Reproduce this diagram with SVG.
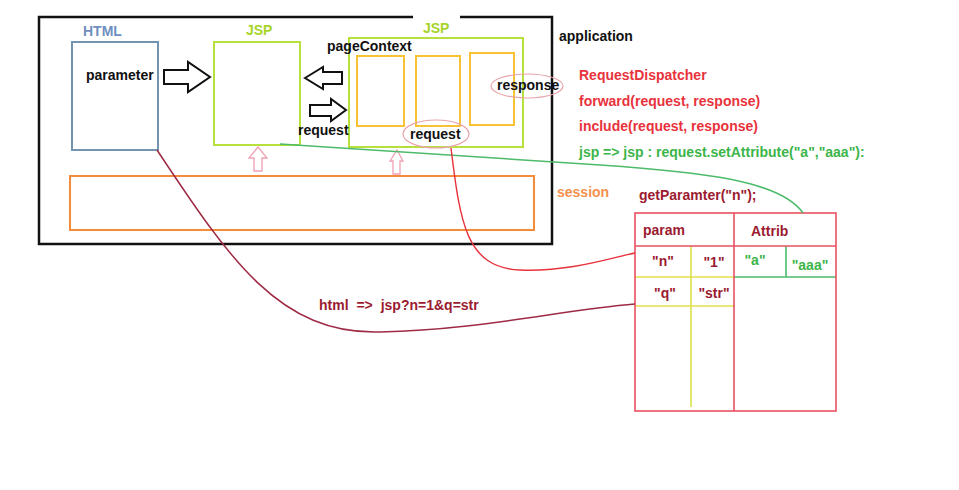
<svg xmlns="http://www.w3.org/2000/svg" width="959" height="490" viewBox="0 0 959 490">
<style>
text{font-family:"Liberation Sans",Arial,sans-serif;font-weight:bold;font-size:14px}
.k{fill:#111}
.red{fill:#e8323c}
.grn{fill:#3cb54a}
.dr{fill:#9b1b30}
.blk{fill:#fff;stroke:#111;stroke-width:2}
.pk{fill:#fff;stroke:#f0a0b4;stroke-width:1.3}
.jsp{fill:none;stroke:#b8e03c;stroke-width:2}
.inner{fill:none;stroke:#f7c234;stroke-width:2}
.ell{fill:none;stroke:#e8a4aa;stroke-width:1.2}
.tb{fill:none;stroke:#e8505f;stroke-width:1.6}
</style>
<rect width="959" height="490" fill="#fff"/>
<g id="application">
<path d="M413,17 H39 V244 H552 V17 H460" fill="none" stroke="#111" stroke-width="2.5"/>
<text class="k" x="559" y="41">application</text>
</g>
<g id="html">
<text x="83" y="36" fill="#6f8fc0">HTML</text>
<rect x="72" y="42" width="86" height="108" fill="none" stroke="#7294b0" stroke-width="2"/>
<text class="k" x="86" y="80">parameter</text>
</g>
<g id="jsp1">
<text x="246" y="35" fill="#a8d42a">JSP</text>
<rect x="214" y="42" width="86" height="103" class="jsp"/>
</g>
<g id="jsp2">
<text x="423" y="33" fill="#a8d42a">JSP</text>
<rect x="349" y="38" width="174" height="109" class="jsp"/>
<text class="k" x="327" y="51">pageContext</text>
<rect x="357" y="56" width="47" height="70" class="inner"/>
<rect x="416" y="56" width="44" height="70" class="inner"/>
<rect x="470" y="53" width="44" height="72" class="inner"/>
<ellipse cx="527" cy="86" rx="36" ry="12" class="ell"/>
<text class="k" x="497" y="90">response</text>
<ellipse cx="436" cy="134" rx="33" ry="14" class="ell"/>
<text class="k" x="410" y="139">request</text>
</g>
<g id="session">
<rect x="70" y="176" width="464" height="54" fill="none" stroke="#f58c3c" stroke-width="2"/>
<text x="557" y="197" fill="#f5904e">session</text>
</g>
<g id="dispatcher">
<text class="red" x="579" y="80">RequestDispatcher</text>
<text class="red" x="579" y="106">forward(request, response)</text>
<text class="red" x="579" y="131">include(request, response)</text>
<text class="grn" x="579" y="157">jsp =&gt; jsp : request.setAttribute("a","aaa"):</text>
</g>
<g id="table">
<text class="dr" x="639" y="200">getParamter("n");</text>
<line x1="691" y1="246" x2="691" y2="407" stroke="#d8e24c" stroke-width="1.6"/>
<line x1="635" y1="277" x2="734" y2="277" stroke="#e2e04a" stroke-width="1.6"/>
<line x1="635" y1="306" x2="735" y2="306" stroke="#e2e04a" stroke-width="1.6"/>
<line x1="734" y1="277" x2="836" y2="277" stroke="#4cbb6a" stroke-width="1.6"/>
<line x1="786" y1="246" x2="786" y2="277" stroke="#4cbb6a" stroke-width="1.6"/>
<rect x="635" y="213" width="201" height="198" class="tb"/>
<line x1="734" y1="213" x2="734" y2="411" class="tb"/>
<line x1="635" y1="246" x2="836" y2="246" class="tb"/>
<text class="dr" x="643" y="235">param</text>
<text class="dr" x="751" y="236">Attrib</text>
<text class="dr" x="663" y="266" text-anchor="middle">"n"</text>
<text class="dr" x="714" y="267" text-anchor="middle">"1"</text>
<text class="grn" x="755" y="265" text-anchor="middle">"a"</text>
<text class="grn" x="810" y="270" text-anchor="middle">"aaa"</text>
<text class="dr" x="665" y="298" text-anchor="middle">"q"</text>
<text class="dr" x="714" y="298" text-anchor="middle">"str"</text>
</g>
<g id="connectors">
<polygon class="blk" points="164,70 188,70 188,62 210,77 188,92 188,84 164,84"/>
<polygon class="blk" points="305,78 323,67 323,72 342,72 342,84 323,84 323,89"/>
<polygon class="blk" points="310,105 331,105 331,99 346,110 331,121 331,116 310,116"/>
<text class="k" x="298" y="135">request</text>
<polygon class="pk" points="258,147 267,158 262,158 262,171 254,171 254,158 249,158"/>
<polygon class="pk" points="397,150 403,161 400,161 400,174 393,174 393,161 390,161"/>
<path d="M280,144 L600,165 C700,172 780,180 803,213" fill="none" stroke="#4cbb6a" stroke-width="1.5"/>
<path d="M451,148 C460,220 465,268 520,270 C570,272 610,258 635,253" fill="none" stroke="#e8323c" stroke-width="1.4"/>
<path d="M157,150 C230,260 280,335 380,332 C480,330 560,310 635,304" fill="none" stroke="#9e2a44" stroke-width="1.5"/>
<text class="dr" x="319" y="310" word-spacing="4">html =&gt; jsp?n=1&amp;q=str</text>
</g>
</svg>
